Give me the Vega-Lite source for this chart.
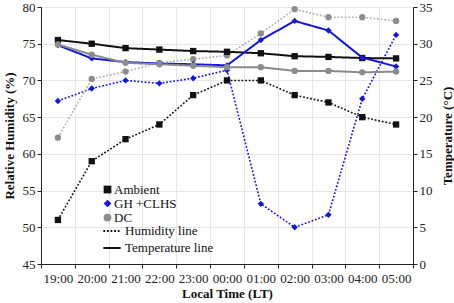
{
  "$schema": "https://vega.github.io/schema/vega-lite/v6.json",
  "width": 372,
  "height": 257,
  "autosize": "none",
  "padding": {"left": 41, "top": 7, "right": 41, "bottom": 39},
  "config": {
    "font": "Liberation Serif, Times New Roman, serif",
    "view": {"stroke": null},
    "axis": {
      "labelFont": "Liberation Serif, Times New Roman, serif",
      "titleFont": "Liberation Serif, Times New Roman, serif",
      "labelFontSize": 13,
      "titleFontSize": 13,
      "titleFontWeight": "bold",
      "labelColor": "#222",
      "titleColor": "#111",
      "domainColor": "#222",
      "tickColor": "#222",
      "gridColor": "#e6e6e6",
      "tickSize": 4
    },
    "legend": {"labelFont": "Liberation Serif, Times New Roman, serif", "labelFontSize": 13, "labelColor": "#111"}
  },
  "data": {
    "values": [
      {"t": "19:00", "s": "Ambient", "v": "Humidity", "val": 51},
      {"t": "20:00", "s": "Ambient", "v": "Humidity", "val": 59},
      {"t": "21:00", "s": "Ambient", "v": "Humidity", "val": 62},
      {"t": "22:00", "s": "Ambient", "v": "Humidity", "val": 64},
      {"t": "23:00", "s": "Ambient", "v": "Humidity", "val": 68},
      {"t": "00:00", "s": "Ambient", "v": "Humidity", "val": 70},
      {"t": "01:00", "s": "Ambient", "v": "Humidity", "val": 70},
      {"t": "02:00", "s": "Ambient", "v": "Humidity", "val": 68},
      {"t": "03:00", "s": "Ambient", "v": "Humidity", "val": 67},
      {"t": "04:00", "s": "Ambient", "v": "Humidity", "val": 65},
      {"t": "05:00", "s": "Ambient", "v": "Humidity", "val": 64},
      {"t": "19:00", "s": "GH +CLHS", "v": "Humidity", "val": 67.2},
      {"t": "20:00", "s": "GH +CLHS", "v": "Humidity", "val": 68.9},
      {"t": "21:00", "s": "GH +CLHS", "v": "Humidity", "val": 70.0},
      {"t": "22:00", "s": "GH +CLHS", "v": "Humidity", "val": 69.6},
      {"t": "23:00", "s": "GH +CLHS", "v": "Humidity", "val": 70.3},
      {"t": "00:00", "s": "GH +CLHS", "v": "Humidity", "val": 71.4},
      {"t": "01:00", "s": "GH +CLHS", "v": "Humidity", "val": 53.2},
      {"t": "02:00", "s": "GH +CLHS", "v": "Humidity", "val": 50.0},
      {"t": "03:00", "s": "GH +CLHS", "v": "Humidity", "val": 51.7},
      {"t": "04:00", "s": "GH +CLHS", "v": "Humidity", "val": 67.5},
      {"t": "05:00", "s": "GH +CLHS", "v": "Humidity", "val": 76.2},
      {"t": "19:00", "s": "DC", "v": "Humidity", "val": 62.2},
      {"t": "20:00", "s": "DC", "v": "Humidity", "val": 70.2},
      {"t": "21:00", "s": "DC", "v": "Humidity", "val": 71.2},
      {"t": "22:00", "s": "DC", "v": "Humidity", "val": 72.4},
      {"t": "23:00", "s": "DC", "v": "Humidity", "val": 72.9},
      {"t": "00:00", "s": "DC", "v": "Humidity", "val": 73.4},
      {"t": "01:00", "s": "DC", "v": "Humidity", "val": 76.4},
      {"t": "02:00", "s": "DC", "v": "Humidity", "val": 79.7},
      {"t": "03:00", "s": "DC", "v": "Humidity", "val": 78.6},
      {"t": "04:00", "s": "DC", "v": "Humidity", "val": 78.6},
      {"t": "05:00", "s": "DC", "v": "Humidity", "val": 78.1},
      {"t": "19:00", "s": "Ambient", "v": "Temperature", "val": 30.5},
      {"t": "20:00", "s": "Ambient", "v": "Temperature", "val": 30.0},
      {"t": "21:00", "s": "Ambient", "v": "Temperature", "val": 29.4},
      {"t": "22:00", "s": "Ambient", "v": "Temperature", "val": 29.2},
      {"t": "23:00", "s": "Ambient", "v": "Temperature", "val": 29.0},
      {"t": "00:00", "s": "Ambient", "v": "Temperature", "val": 28.9},
      {"t": "01:00", "s": "Ambient", "v": "Temperature", "val": 28.7},
      {"t": "02:00", "s": "Ambient", "v": "Temperature", "val": 28.3},
      {"t": "03:00", "s": "Ambient", "v": "Temperature", "val": 28.2},
      {"t": "04:00", "s": "Ambient", "v": "Temperature", "val": 28.05},
      {"t": "05:00", "s": "Ambient", "v": "Temperature", "val": 28.0},
      {"t": "19:00", "s": "GH +CLHS", "v": "Temperature", "val": 29.8},
      {"t": "20:00", "s": "GH +CLHS", "v": "Temperature", "val": 28.0},
      {"t": "21:00", "s": "GH +CLHS", "v": "Temperature", "val": 27.5},
      {"t": "22:00", "s": "GH +CLHS", "v": "Temperature", "val": 27.3},
      {"t": "23:00", "s": "GH +CLHS", "v": "Temperature", "val": 27.2},
      {"t": "00:00", "s": "GH +CLHS", "v": "Temperature", "val": 27.05},
      {"t": "01:00", "s": "GH +CLHS", "v": "Temperature", "val": 30.5},
      {"t": "02:00", "s": "GH +CLHS", "v": "Temperature", "val": 33.1},
      {"t": "03:00", "s": "GH +CLHS", "v": "Temperature", "val": 31.8},
      {"t": "04:00", "s": "GH +CLHS", "v": "Temperature", "val": 28.1},
      {"t": "05:00", "s": "GH +CLHS", "v": "Temperature", "val": 26.9},
      {"t": "19:00", "s": "DC", "v": "Temperature", "val": 29.9},
      {"t": "20:00", "s": "DC", "v": "Temperature", "val": 28.5},
      {"t": "21:00", "s": "DC", "v": "Temperature", "val": 27.4},
      {"t": "22:00", "s": "DC", "v": "Temperature", "val": 27.2},
      {"t": "23:00", "s": "DC", "v": "Temperature", "val": 27.0},
      {"t": "00:00", "s": "DC", "v": "Temperature", "val": 26.8},
      {"t": "01:00", "s": "DC", "v": "Temperature", "val": 26.8},
      {"t": "02:00", "s": "DC", "v": "Temperature", "val": 26.3},
      {"t": "03:00", "s": "DC", "v": "Temperature", "val": 26.3},
      {"t": "04:00", "s": "DC", "v": "Temperature", "val": 26.1},
      {"t": "05:00", "s": "DC", "v": "Temperature", "val": 26.2}
    ]
  },
  "encoding": {
    "x": {
      "field": "t",
      "type": "ordinal",
      "sort": null,
      "scale": {"type": "band", "paddingInner": 0, "paddingOuter": 0},
      "axis": {
        "title": "Local Time (LT)",
        "labelAngle": 0,
        "tickBand": "extent",
        "grid": true,
        "labelPadding": 4,
        "titlePadding": 2
      }
    }
  },
  "layer": [
    {
      "transform": [{"filter": "datum.v === 'Humidity'"}],
      "encoding": {
        "y": {
          "field": "val",
          "type": "quantitative",
          "scale": {"domain": [45, 80], "nice": false, "zero": false},
          "axis": {
            "title": "Relative Humidity (%)",
            "values": [45, 50, 55, 60, 65, 70, 75, 80],
            "grid": true,
            "titlePadding": 6
          }
        }
      },
      "layer": [
        {
          "mark": {"type": "line", "strokeWidth": 1.6},
          "encoding": {
            "stroke": {
              "field": "s",
              "type": "nominal",
              "scale": {"domain": ["Ambient", "GH +CLHS", "DC"], "range": ["#111111", "#1515e0", "#b0b0b0"]},
              "legend": null
            },
            "strokeDash": {
              "field": "v",
              "type": "nominal",
              "scale": {"domain": ["Humidity", "Temperature"], "range": [[1.8, 1.8], [1, 0]]},
              "legend": {
                "title": null,
                "orient": "none",
                "legendX": 61,
                "legendY": 214,
                "symbolType": "stroke",
                "symbolSize": 300,
                "symbolStrokeColor": "#111",
                "symbolStrokeWidth": 1.8,
                "rowPadding": -2,
                "labelOffset": 3,
                "labelExpr": "datum.label + ' line'"
              }
            }
          }
        },
        {
          "mark": {"type": "point", "filled": true, "size": 40, "opacity": 1},
          "encoding": {
            "fill": {
              "field": "s",
              "type": "nominal",
              "scale": {"domain": ["Ambient", "GH +CLHS", "DC"], "range": ["#111111", "#1515e0", "#8c8c8c"]},
              "legend": {
                "title": null,
                "orient": "none",
                "legendX": 60,
                "legendY": 176,
                "symbolSize": 60,
                "rowPadding": -2,
                "labelOffset": 0
              }
            },
            "shape": {
              "field": "s",
              "type": "nominal",
              "scale": {"domain": ["Ambient", "GH +CLHS", "DC"], "range": ["square", "diamond", "circle"]}
            }
          }
        }
      ]
    },
    {
      "transform": [{"filter": "datum.v === 'Temperature'"}],
      "encoding": {
        "y": {
          "field": "val",
          "type": "quantitative",
          "scale": {"domain": [0, 35], "nice": false},
          "axis": {
            "title": "Temperature (°C)",
            "orient": "right",
            "values": [0, 5, 10, 15, 20, 25, 30, 35],
            "grid": false,
            "titleAngle": -90,
            "titlePadding": 22
          }
        }
      },
      "layer": [
        {
          "mark": {"type": "line", "strokeWidth": 2},
          "encoding": {
            "stroke": {
              "field": "s",
              "type": "nominal",
              "scale": {"domain": ["Ambient", "GH +CLHS", "DC"], "range": ["#111111", "#1515e0", "#8a8a8a"]},
              "legend": null
            },
            "strokeDash": {
              "field": "v",
              "type": "nominal"
            }
          }
        },
        {
          "mark": {"type": "point", "filled": true, "size": 40, "opacity": 1},
          "encoding": {
            "fill": {"field": "s", "type": "nominal"},
            "shape": {"field": "s", "type": "nominal"}
          }
        }
      ]
    }
  ],
  "resolve": {"scale": {"y": "independent", "stroke": "independent"}}
}
